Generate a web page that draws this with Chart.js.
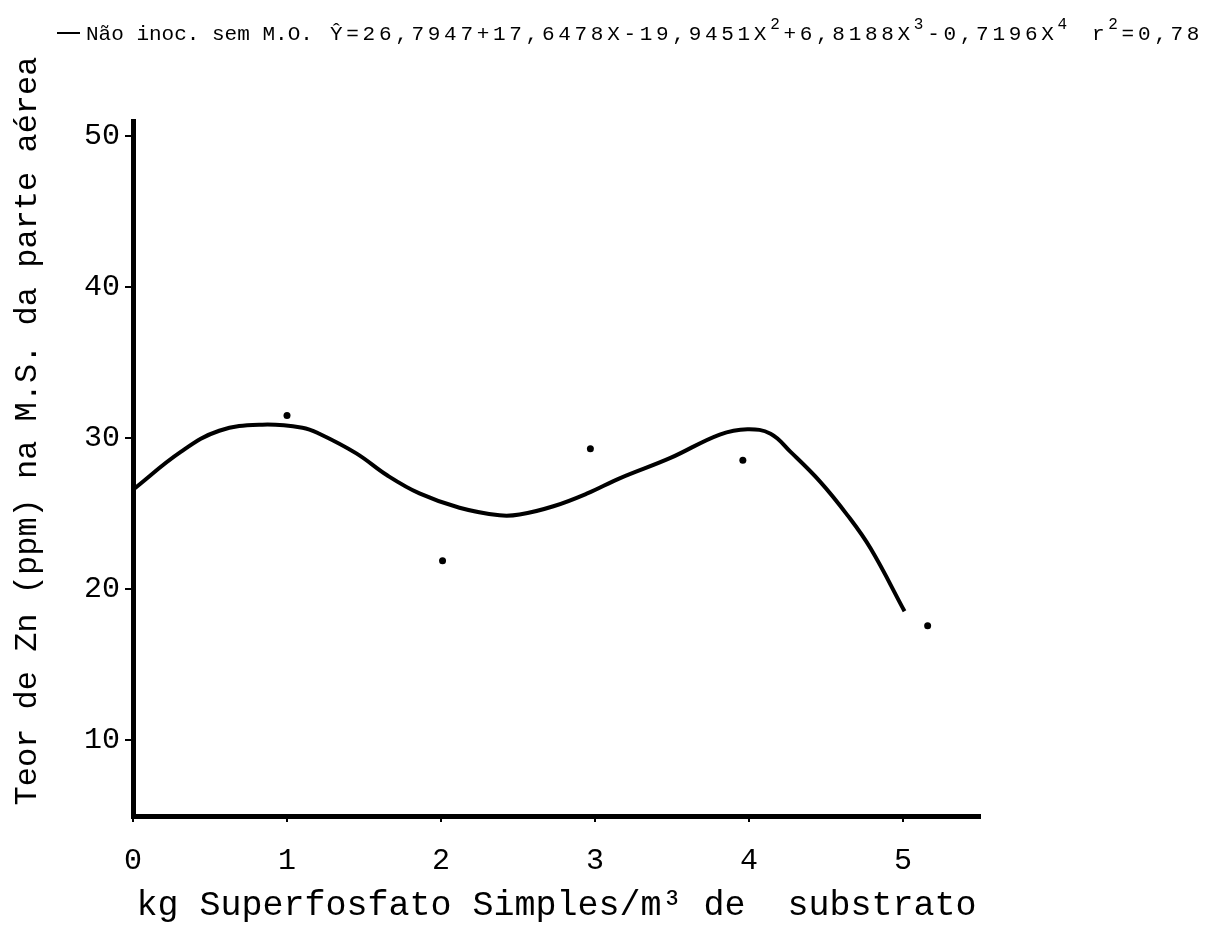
<!DOCTYPE html>
<html lang="pt">
<head>
  <meta charset="UTF-8" />
  <title>Teor de Zn na parte aérea</title>
  <script src="https://cdn.jsdelivr.net/npm/chart.js"></script>
  <style>
    html, body { margin: 0; padding: 0; background: #fff; overflow: hidden; }
  </style>
</head>
<body>
  <canvas id="znChart" width="1205" height="929"></canvas>

  <script>
    // fitted curve
    const curveX = [0, 0.31, 0.56, 0.84, 1.10, 1.21, 1.45, 1.65, 1.86, 2.12, 2.38, 2.51, 2.73, 2.95, 3.16, 3.49, 3.81, 3.99, 4.14, 4.27, 4.46, 4.64, 4.79, 5.01];
    const curveY = [26.6, 29.1, 30.5, 30.9, 30.7, 30.3, 29.0, 27.55, 26.35, 25.4, 24.9, 24.95, 25.5, 26.35, 27.35, 28.7, 30.25, 30.6, 30.3, 29.1, 27.15, 24.9, 22.7, 18.55];

    // observed means
    const obsX = [1.0, 2.01, 2.97, 3.96, 5.16];
    const obsY = [31.5, 21.9, 29.3, 28.55, 17.6];

    const xTicks = [0, 1, 2, 3, 4, 5];
    const yTicks = [10, 20, 30, 40, 50];

    const seriesLabel = "Não inoc. sem M.O.";
    const eqParts = [["Ŷ=26,7947+17,6478X-19,9451X", "2"], ["+6,8188X", "3"], ["-0,7196X", "4"]];
    const r2Parts = ["r", "2", "=0,78"];
    const yTitle = "Teor de Zn (ppm) na M.S. da parte aérea";
    const xTitle = "kg Superfosfato Simples/m³ de  substrato";

    const mono = "'Liberation Mono', 'Courier New', monospace";

    const headerPlugin = {
      id: "header",
      afterDraw(chart) {
        const ctx = chart.ctx;
        ctx.save();
        ctx.fillStyle = "#000";
        ctx.strokeStyle = "#000";
        // legend line sample
        ctx.lineWidth = 2;
        ctx.beginPath();
        ctx.moveTo(57, 33);
        ctx.lineTo(80, 33);
        ctx.stroke();

        ctx.textBaseline = "alphabetic";
        ctx.textAlign = "left";
        ctx.font = "21px " + mono;
        ctx.letterSpacing = "0px";
        ctx.fillText(seriesLabel, 86, 40);

        // equation with superscripts
        let x = 330;
        ctx.letterSpacing = "3.7px";
        eqParts.forEach(([base, sup]) => {
          ctx.font = "21px " + mono;
          ctx.fillText(base, x, 40);
          x += ctx.measureText(base).width;
          ctx.font = "16px " + mono;
          ctx.fillText(sup, x, 29);
          x += ctx.measureText(sup).width;
        });

        x = 1092;
        ctx.font = "21px " + mono;
        ctx.fillText(r2Parts[0], x, 40);
        x += ctx.measureText(r2Parts[0]).width;
        ctx.font = "16px " + mono;
        ctx.fillText(r2Parts[1], x, 29);
        x += ctx.measureText(r2Parts[1]).width;
        ctx.font = "21px " + mono;
        ctx.fillText(r2Parts[2], x, 40);

        // y axis title
        ctx.letterSpacing = "0px";
        ctx.translate(28, 431);
        ctx.rotate(-Math.PI / 2);
        ctx.font = "32px " + mono;
        ctx.textAlign = "center";
        ctx.textBaseline = "middle";
        ctx.fillText(yTitle, 0, 0);
        ctx.restore();
      }
    };

    const tickFont = { family: mono, size: 30 };

    new Chart(document.getElementById("znChart"), {
      type: "scatter",
      data: {
        datasets: [
          {
            label: seriesLabel,
            data: curveX.map((v, i) => ({ x: v, y: curveY[i] })),
            showLine: true,
            borderColor: "#000",
            borderWidth: 4,
            pointRadius: 0,
            tension: 0.4,
            fill: false
          },
          {
            label: "observado",
            data: obsX.map((v, i) => ({ x: v, y: obsY[i] })),
            showLine: false,
            pointRadius: 3.5,
            pointBackgroundColor: "#000",
            pointBorderWidth: 0
          }
        ]
      },
      options: {
        responsive: false,
        animation: false,
        layout: { padding: { top: 121, right: 225, bottom: 0, left: 0 } },
        plugins: {
          legend: { display: false },
          tooltip: { enabled: false }
        },
        scales: {
          x: {
            type: "linear",
            min: 0,
            max: 5.5,
            afterBuildTicks: s => { s.ticks = xTicks.map(v => ({ value: v })); },
            afterFit: s => { s.height = 113; },
            border: { display: true, color: "#000", width: 5 },
            grid: { drawOnChartArea: false, drawTicks: true, tickLength: 6, color: "#000", lineWidth: 2 },
            ticks: { font: tickFont, color: "#000", padding: 21, autoSkip: false, maxRotation: 0 },
            title: {
              display: true,
              text: xTitle,
              font: { family: mono, size: 35 },
              color: "#000",
              padding: { top: 0, bottom: 2 }
            }
          },
          y: {
            type: "linear",
            min: 5,
            max: 51,
            afterBuildTicks: s => { s.ticks = yTicks.map(v => ({ value: v })); },
            afterFit: s => { s.width = 133; },
            border: { display: true, color: "#000", width: 5 },
            grid: { drawOnChartArea: false, drawTicks: true, tickLength: 8, color: "#000", lineWidth: 2 },
            ticks: { font: tickFont, color: "#000", padding: 5, autoSkip: false }
          }
        }
      },
      plugins: [headerPlugin]
    });
  </script>
</body>
</html>
